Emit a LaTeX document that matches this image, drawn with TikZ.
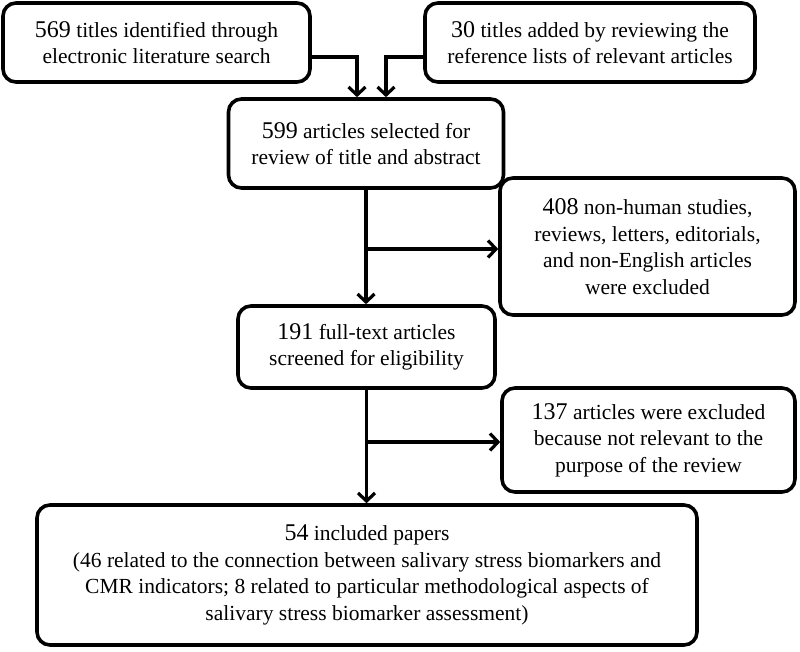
\documentclass[tikz,border=0pt]{standalone}
\usepackage{fontspec}
\setmainfont{Liberation Serif}
\usetikzlibrary{arrows.meta,calc}
\begin{document}
\begin{tikzpicture}[x=1pt,y=-1pt,
  box/.style={draw,line width=3.6pt,rounded corners=13pt,align=center,inner sep=0pt,
    font=\fontsize{21.5}{26.5}\selectfont},
  arr/.style={line width=3.2pt,-{Straight Barb[length=8pt,width=17pt,line width=3.2pt]}},
  num/.style={}]
\useasboundingbox (0,0) rectangle (800,652);
\newcommand\nm[1]{{\fontsize{24}{26.5}\selectfont #1}}
\node[box,minimum width=307pt,minimum height=79pt] (b1) at (156.5,42.5)
  {\nm{569} titles identified through\\electronic literature search};
\node[box,minimum width=330pt,minimum height=79pt] (b2) at (590,42.5)
  {\nm{30} titles added by reviewing the\\reference lists of relevant articles};
\node[box,minimum width=275pt,minimum height=89pt] (b3) at (366,143.5)
  {\nm{599} articles selected for\\review of title and abstract};
\node[box,minimum width=295pt,minimum height=137pt] (b4) at (647.5,246.5)
  {\nm{408} non-human studies,\\reviews, letters, editorials,\\and non-English articles\\were excluded};
\node[box,minimum width=257pt,minimum height=82pt] (b5) at (366.5,347)
  {\nm{191} full-text articles\\screened for eligibility};
\node[box,minimum width=293pt,minimum height=104pt] (b6) at (648.5,440)
  {\nm{137} articles were excluded\\because not relevant to the\\purpose of the review};
\node[box,minimum width=660pt,minimum height=140pt] (b7) at (367,575)
  {\nm{54} included papers\\(46 related to the connection between salivary stress biomarkers and\\CMR indicators; 8 related to particular methodological aspects of\\salivary stress biomarker assessment)};
\draw[arr] ([yshift=-14.5pt]b1.east) -| ([xshift=-9pt]b3.north);
\draw[arr] ([yshift=-14.5pt]b2.west) -| ([xshift=20pt]b3.north);
\coordinate (j1) at (366,249);
\coordinate (j2) at (366,442);
\draw[arr] (b3.south) -- (b3.south |- b5.north);
\draw[arr] (j1) -- (j1 -| b4.west);
\draw[arr] (b5.south) -- (b5.south |- b7.north);
\draw[arr] (j2) -- (j2 -| b6.west);
\end{tikzpicture}
\end{document}
